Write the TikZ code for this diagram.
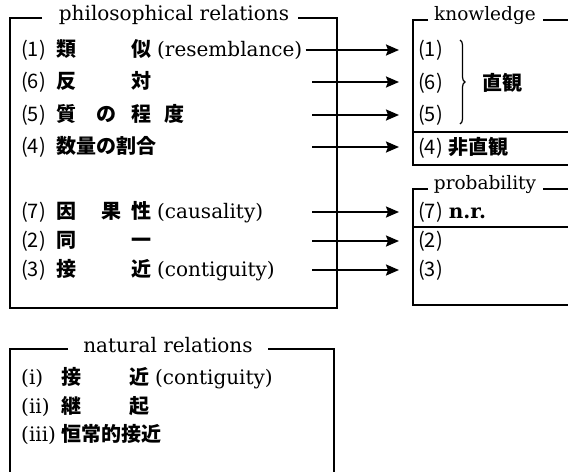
\documentclass[tikz,border=0pt]{standalone}
\usepackage{fontspec}
\setmainfont{DejaVu Serif}
\newfontfamily\jp{Noto Sans CJK JP}
\usetikzlibrary{arrows.meta,decorations.pathreplacing}
\begin{document}
\begin{tikzpicture}[x=1pt,y=-1pt,
  frame/.style={line width=2pt},
  arr/.style={line width=2pt,-{Stealth[length=13pt,width=11pt,inset=2pt]}},
  ttl/.style={inner sep=0pt,font=\fontsize{20}{20}\selectfont},
  sttl/.style={inner sep=0pt,font=\fontsize{18.5}{18.5}\selectfont},
  row/.style={anchor=west,inner sep=0pt,font=\fontsize{20}{20}\selectfont}]
\useasboundingbox (0,0) rectangle (568,472);
\newcommand\cjk[1]{{\jp\bfseries\fontsize{20}{20}\selectfont #1}}
\newcommand\num[1]{{\jp\fontsize{20}{20}\selectfont #1}}
\newcommand\lab[1]{\makebox[35pt][l]{\num{#1}}}
% philosophical relations box
\node[ttl] (ptitle) at (174,15) {philosophical relations};
\draw[frame] (42,18) -- (10,18) -- (10,308) -- (337,308) -- (337,18) -- (298,18);
\node[row] (p1) at (21,50) {\lab{(1)}\makebox[75pt][l]{\cjk{類}}\cjk{似}\hspace{6pt}(resemblance)};
\node[row] (p6) at (21,82) {\lab{(6)}\makebox[75pt][l]{\cjk{反}}\cjk{対}};
\node[row] (p5) at (21,115) {\lab{(5)}\makebox[40pt][l]{\cjk{質}}\makebox[35pt][l]{\cjk{の}}\makebox[33pt][l]{\cjk{程}}\cjk{度}};
\node[row] (p4) at (21,147) {\lab{(4)}\cjk{数量の割合}};
\node[row] (p7) at (21,212) {\lab{(7)}\makebox[45pt][l]{\cjk{因}}\makebox[30pt][l]{\cjk{果}}\cjk{性}\hspace{6pt}(causality)};
\node[row] (p2) at (21,241) {\lab{(2)}\makebox[75pt][l]{\cjk{同}}\cjk{一}};
\node[row] (p3) at (21,270) {\lab{(3)}\makebox[75pt][l]{\cjk{接}}\cjk{近}\hspace{6pt}(contiguity)};
% knowledge box
\node[sttl] (ktitle) at (485,16) {knowledge};
\draw[frame] (428,20) -- (413,20) -- (413,165) -- (568,165);
\draw[frame] (543,20) -- (568,20);
\draw[frame] (413,132) -- (568,132);
\node[row] (k1) at (418,50) {\num{(1)}};
\node[row] (k6) at (418,83) {\num{(6)}};
\node[row] (k5) at (418,115) {\num{(5)}};
\draw[line width=1.2pt,decorate,decoration={brace,amplitude=5pt}] (460,40) -- (460,124);
\node[row] (kint) at (482,83) {\cjk{直観}};
\node[row] (k4) at (418,148) {\num{(4)}\hspace{6pt}\cjk{非直観}};
% probability box
\node[sttl] (prtitle) at (485,185) {probability};
\draw[frame] (428,189) -- (413,189) -- (413,305) -- (568,305);
\draw[frame] (543,189) -- (568,189);
\draw[frame] (413,227) -- (568,227);
\node[row] (q7) at (418,212) {\num{(7)}\hspace{6pt}\textbf{n.r.}};
\node[row] (q2) at (418,241) {\num{(2)}};
\node[row] (q3) at (418,270) {\num{(3)}};
% arrows
\coordinate (s6) at (312,82);
\coordinate (s5) at (312,115);
\coordinate (s4) at (312,147);
\coordinate (s7) at (312,212);
\coordinate (s2) at (312,241);
\coordinate (s3) at (312,270);
\coordinate (e1) at (399,50);
\coordinate (e6) at (399,82);
\coordinate (e5) at (399,115);
\coordinate (e4) at (399,147);
\coordinate (e7) at (399,212);
\coordinate (e2) at (399,241);
\coordinate (e3) at (399,270);
\draw[arr] ([xshift=3pt]p1.east) -- (e1);
\draw[arr] (s6) -- (e6);
\draw[arr] (s5) -- (e5);
\draw[arr] (s4) -- (e4);
\draw[arr] (s7) -- (e7);
\draw[arr] (s2) -- (e2);
\draw[arr] (s3) -- (e3);
% natural relations box
\node[ttl] (ntitle) at (168,345) {natural relations};
\draw[frame] (68,349) -- (10,349) -- (10,472);
\draw[frame] (268,349) -- (334,349) -- (334,472);
\newcommand\rlab[1]{\makebox[40pt][l]{#1}}
\node[row] (n1) at (21,378) {\rlab{(i)}\makebox[68pt][l]{\cjk{接}}\cjk{近}\hspace{6pt}(contiguity)};
\node[row] (n2) at (21,407) {\rlab{(ii)}\makebox[68pt][l]{\cjk{継}}\cjk{起}};
\node[row] (n3) at (21,434) {\rlab{(iii)}\cjk{恒常的接近}};
\end{tikzpicture}
\end{document}
